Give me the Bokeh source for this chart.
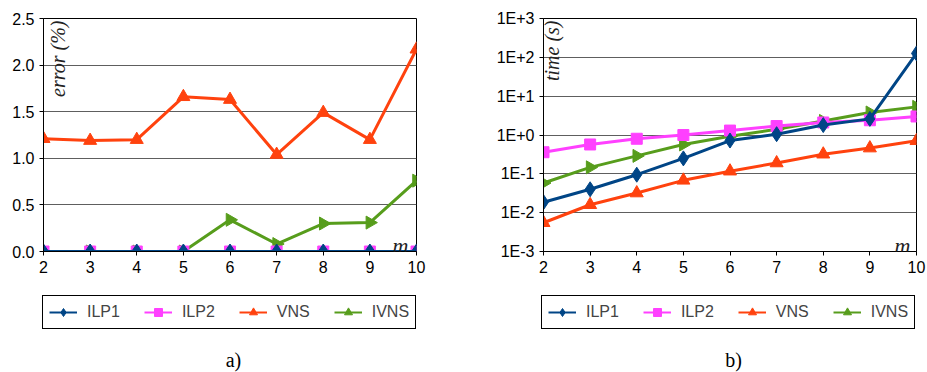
import math
from bokeh.plotting import figure
from bokeh.layouts import row, column
from bokeh.models import (Legend, LegendItem, Label, FixedTicker, Range1d)
from bokeh.embed import file_html
from bokeh.resources import INLINE

# ---------------- data ----------------
m_values = [2, 3, 4, 5, 6, 7, 8, 9, 10]
series_names = ["ILP1", "ILP2", "VNS", "IVNS"]

err_ilp1 = [0.0, 0.0, 0.0, 0.0, 0.0, 0.0, 0.0, 0.0, 0.0]
err_ilp2 = [0.0, 0.0, 0.0, 0.0, 0.0, 0.0, 0.0, 0.0, 0.0]
err_vns = [1.21, 1.19, 1.20, 1.66, 1.63, 1.04, 1.49, 1.20, 2.17]
err_ivns = [0.0, 0.0, 0.0, 0.0, 0.34, 0.08, 0.30, 0.31, 0.76]

time_ilp1 = [0.0186, 0.040, 0.095, 0.25, 0.72, 1.05, 1.8, 2.6, 126.0]
time_ilp2 = [0.36, 0.57, 0.80, 1.0, 1.3, 1.7, 2.1, 2.4, 3.0]
time_vns = [0.0055, 0.016, 0.032, 0.068, 0.117, 0.19, 0.32, 0.46, 0.71]
time_ivns = [0.058, 0.147, 0.29, 0.57, 0.93, 1.4, 2.3, 3.8, 5.3]

err_ticks = [0.0, 0.5, 1.0, 1.5, 2.0, 2.5]
err_tick_labels = ["0.0", "0.5", "1.0", "1.5", "2.0", "2.5"]
time_ticks = [0.001, 0.01, 0.1, 1, 10, 100, 1000]
time_tick_labels = ["1E-3", "1E-2", "1E-1", "1E+0", "1E+1", "1E+2", "1E+3"]

# ---------------- styles ----------------
colors = {"ILP1": "#004586", "ILP2": "#ff40ff", "VNS": "#ff420e", "IVNS": "#579d1c"}
markers = {"ILP1": "diamond", "ILP2": "square", "VNS": "triangle", "IVNS": "triangle"}
msizes = {"ILP1": 15, "ILP2": 11, "VNS": 13, "IVNS": 13}
angles = {"ILP1": 0.0, "ILP2": 0.0, "VNS": 0.0, "IVNS": -math.pi / 2}
draw_order = ["IVNS", "VNS", "ILP2", "ILP1"]

TICK_FONT = "Liberation Sans"
SERIF = "Liberation Serif"
MAIN_H = 281
LEG_H = 91


def style(p):
    p.outline_line_color = "black"
    p.outline_line_width = 1
    p.xgrid.grid_line_color = None
    p.ygrid.grid_line_color = "#5e5e5e"
    p.ygrid.grid_line_width = 1
    for ax in (p.xaxis[0], p.yaxis[0]):
        ax.axis_line_color = "black"
        ax.axis_line_width = 1
        ax.major_tick_line_color = "black"
        ax.major_tick_in = 0
        ax.major_tick_out = 4
        ax.minor_tick_line_color = None
        ax.major_label_text_font = TICK_FONT
        ax.major_label_text_font_size = "16px"
        ax.major_label_text_color = "black"
        ax.major_label_standoff = 5
    p.xaxis[0].ticker = FixedTicker(ticks=m_values)


def build(p, ydata):
    for name in draw_order:
        p.line(m_values, ydata[name], line_color=colors[name], line_width=3)
        p.scatter(m_values, ydata[name], marker=markers[name], size=msizes[name],
                  fill_color=colors[name], line_color=colors[name], angle=angles[name])


def legend_fig(width, legend_x, caption_x, caption, ydata):
    # the legend strip: its view window lies away from the data, so only the
    # legend glyphs of these series renderers are visible
    y0 = -1000.0
    q = figure(width=width, height=LEG_H, output_backend="svg", toolbar_location=None,
               x_range=Range1d(0, width), y_range=Range1d(y0, y0 + LEG_H),
               x_axis_location=None, y_axis_location=None,
               min_border_left=0, min_border_right=0, min_border_top=0, min_border_bottom=0)
    q.outline_line_color = None
    q.grid.grid_line_color = None
    items = []
    for name in series_names:
        lr = q.line(m_values, ydata[name], line_color=colors[name], line_width=2)
        sr = q.scatter(m_values, ydata[name], marker=markers[name], size=msizes[name],
                       fill_color=colors[name], line_color=colors[name], angle=angles[name])
        items.append(LegendItem(label=name, renderers=[lr, sr]))
    legend = Legend(items=items, orientation="horizontal", location=(legend_x, 43),
                    border_line_color="black", border_line_width=1, border_line_alpha=1.0,
                    background_fill_color="white",
                    label_text_font=TICK_FONT, label_text_font_size="16px",
                    glyph_width=28, glyph_height=20, label_height=20,
                    label_standoff=10, spacing=24, padding=6, margin=0)
    q.add_layout(legend, "center")
    q.add_layout(Label(x=caption_x, y=y0 + 13, text=caption, text_font=SERIF,
                       text_font_size="20px", text_align="center",
                       text_baseline="alphabetic", text_color="black"))
    return q


err_data = {"ILP1": err_ilp1, "ILP2": err_ilp2, "VNS": err_vns, "IVNS": err_ivns}
time_data = {"ILP1": time_ilp1, "ILP2": time_ilp2, "VNS": time_vns, "IVNS": time_ivns}

# ---------------- panel a ----------------
pa = figure(width=460, height=MAIN_H, output_backend="svg", toolbar_location=None,
            x_range=Range1d(2, 10), y_range=Range1d(0, 2.5),
            min_border_left=43, min_border_right=44, min_border_top=18, min_border_bottom=30)
style(pa)
pa.yaxis[0].ticker = FixedTicker(ticks=err_ticks)
pa.yaxis[0].major_label_overrides = {t: l for t, l in zip(err_ticks, err_tick_labels)}
build(pa, err_data)
pa.add_layout(Label(x=2, y=2.5, x_offset=14, y_offset=-2, angle=math.pi / 2,
                    text="error (%)", text_font=SERIF, text_font_style="italic",
                    text_font_size="20px", text_align="right", text_baseline="alphabetic",
                    text_color="#222222"))
pa.add_layout(Label(x=10, y=0, x_offset=-8, y_offset=6, text="m",
                    text_font=SERIF, text_font_style="italic", text_font_size="22px",
                    text_align="right", text_baseline="alphabetic", text_color="#222222"))

# ---------------- panel b ----------------
pb = figure(width=467, height=MAIN_H, output_backend="svg", toolbar_location=None,
            x_range=Range1d(2, 10), y_range=Range1d(0.001, 1000), y_axis_type="log",
            min_border_left=83, min_border_right=11, min_border_top=18, min_border_bottom=30)
style(pb)
pb.yaxis[0].ticker = FixedTicker(ticks=time_ticks, minor_ticks=[])
pb.yaxis[0].major_label_overrides = {t: l for t, l in zip(time_ticks, time_tick_labels)}
build(pb, time_data)
pb.add_layout(Label(x=2, y=1000, x_offset=8, y_offset=-2, angle=math.pi / 2,
                    text="time (s)", text_font=SERIF, text_font_style="italic",
                    text_font_size="20px", text_align="right", text_baseline="alphabetic",
                    text_color="#222222"))
pb.add_layout(Label(x=10, y=0.001, x_offset=-6, y_offset=6, text="m",
                    text_font=SERIF, text_font_style="italic", text_font_size="22px",
                    text_align="right", text_baseline="alphabetic", text_color="#222222"))

la = legend_fig(460, 42, 233, "a)", err_data)
lb = legend_fig(467, 81, 273, "b)", time_data)

layout = column(row(pa, pb, spacing=0), row(la, lb, spacing=0), spacing=0)
open("out.html", "w").write(file_html(layout, INLINE))
